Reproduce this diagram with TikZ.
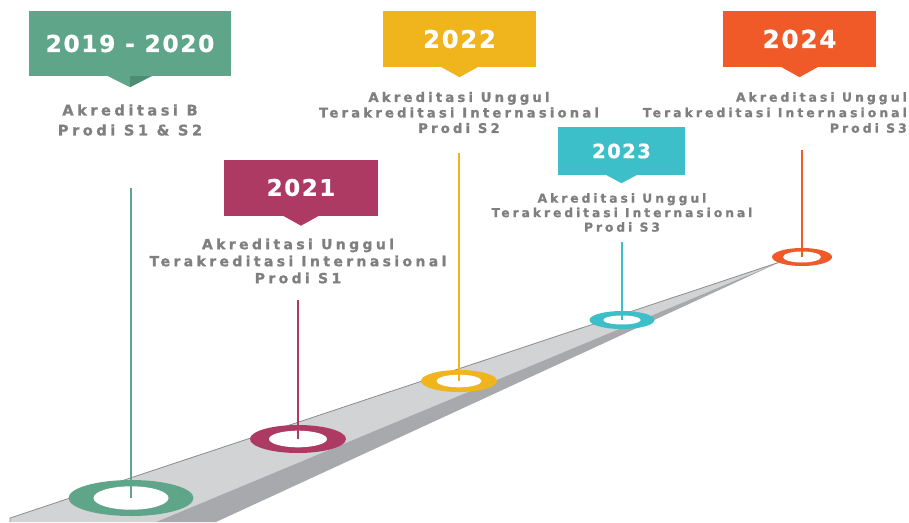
\documentclass[tikz,border=0pt]{standalone}
\usepackage{fontspec}
\setmainfont{DejaVu Sans}
\newfontfamily\yfont[LetterSpace=7, FakeBold=0.8]{DejaVu Sans}
\newfontfamily\gfont[LetterSpace=24, FakeBold=1.2]{DejaVu Sans}
\usetikzlibrary{shapes.geometric}
\definecolor{cgreen}{HTML}{5FA58A}
\definecolor{cgreendk}{HTML}{4E8C73}
\definecolor{cmag}{HTML}{AD3A63}
\definecolor{cyel}{HTML}{F0B41C}
\definecolor{ccyan}{HTML}{3DBFC9}
\definecolor{corange}{HTML}{F05A28}
\definecolor{cgreytext}{HTML}{7F7F7F}
\definecolor{roadlight}{HTML}{D1D3D4}
\definecolor{roaddark}{HTML}{A7A9AC}
\definecolor{roadedge}{HTML}{8C8C8C}
\begin{document}
\begin{tikzpicture}[x=1pt,y=-1pt,
  yearbox/.style={rectangle, inner sep=0pt, text=white},
  ring/.style={ellipse, inner sep=0pt, draw=none},
  hole/.style={ellipse, inner sep=0pt, draw=none, fill=white},
  stem/.style={line width=2pt},
  gtext/.style={text=cgreytext, inner sep=0pt, align=center}]
\useasboundingbox (0,0) rectangle (909,522);
% road
\fill[roadlight] (10,518) -- (780,262) -- (156,522) -- (10,522) -- cycle;
\fill[roaddark] (780,262) -- (156,522) -- (216,522) -- cycle;
\draw[roadedge, line width=0.8pt] (10,522) -- (10,518) -- (780,262);
% rings
\node[ring, fill=cgreen, minimum width=125pt, minimum height=36pt] (r1) at (131,498) {};
\node[hole, minimum width=75pt, minimum height=23.4pt] (h1) at (r1) {};
\node[ring, fill=cmag, minimum width=96pt, minimum height=28pt] (r2) at (298,439) {};
\node[hole, minimum width=58pt, minimum height=16.6pt] (h2) at (r2) {};
\node[ring, fill=cyel, minimum width=76pt, minimum height=22pt] (r3) at (459,381) {};
\node[hole, minimum width=45pt, minimum height=12.6pt] (h3) at (r3) {};
\node[ring, fill=ccyan, minimum width=65pt, minimum height=18pt] (r4) at (622,320) {};
\node[hole, minimum width=37.4pt, minimum height=9pt] (h4) at (r4) {};
\node[ring, fill=corange, minimum width=60pt, minimum height=18pt] (r5) at (802,257) {};
\node[hole, minimum width=38pt, minimum height=11pt] (h5) at (r5) {};
% stems
\coordinate (s1) at (131,188);
\coordinate (s2) at (298,300);
\coordinate (s3) at (459,153);
\coordinate (s4) at (622,242);
\coordinate (s5) at (802,150);
\draw[stem, cgreen] (s1) -- (r1.center);
\draw[stem, cmag] (s2) -- (r2.center);
\draw[stem, cyel] (s3) -- (r3.center);
\draw[stem, ccyan] (s4) -- (r4.center);
\draw[stem, corange] (s5) -- (r5.center);
% year boxes
\node[yearbox, fill=cgreen, minimum width=202pt, minimum height=65pt, font=\yfont\bfseries\fontsize{23.3}{27}\selectfont] (b1) at (130,43.5) {2019 - 2020};
\fill[cgreen] ([xshift=-22pt]b1.south) -- ([yshift=-11pt]b1.south) -- ([xshift=22pt]b1.south) -- cycle;
\fill[cgreendk] (b1.south) -- ([yshift=-11pt]b1.south) -- ([xshift=20pt]b1.south) -- cycle;
\node[yearbox, fill=cmag, minimum width=154pt, minimum height=56pt, font=\yfont\bfseries\fontsize{22.9}{27}\selectfont] (b2) at (301,187.5) {2021};
\fill[cmag] ([xshift=-18pt]b2.south) -- ([yshift=-10pt]b2.south) -- ([xshift=18pt]b2.south) -- cycle;
\node[yearbox, fill=cyel, minimum width=153pt, minimum height=56pt, font=\yfont\bfseries\fontsize{24.3}{28}\selectfont] (b3) at (459.5,39) {2022};
\fill[cyel] ([xshift=-18pt]b3.south) -- ([yshift=-10pt]b3.south) -- ([xshift=18pt]b3.south) -- cycle;
\node[yearbox, fill=ccyan, minimum width=127pt, minimum height=48pt, font=\yfont\bfseries\fontsize{19.6}{24}\selectfont] (b4) at (621.5,151) {2023};
\fill[ccyan] ([xshift=-15pt]b4.south) -- ([yshift=-8pt]b4.south) -- ([xshift=15pt]b4.south) -- cycle;
\node[yearbox, fill=corange, minimum width=153pt, minimum height=56pt, font=\yfont\bfseries\fontsize{24.7}{29}\selectfont] (b5) at (799.5,39) {2024};
\fill[corange] ([xshift=-18pt]b5.south) -- ([yshift=-10pt]b5.south) -- ([xshift=18pt]b5.south) -- cycle;
% descriptions
\node[gtext, font=\gfont\bfseries\fontsize{14.6}{20}\selectfont] (t1) at (130,120) {Akreditasi B\\Prodi S1 \& S2};
\node[gtext, font=\gfont\bfseries\fontsize{14}{17}\selectfont] (t2) at (298,261) {Akreditasi Unggul\\Terakreditasi Internasional\\Prodi S1};
\node[gtext, font=\gfont\bfseries\fontsize{13.2}{15.5}\selectfont] (t3) at (459,112.5) {Akreditasi Unggul\\Terakreditasi Internasional\\Prodi S2};
\node[gtext, font=\gfont\bfseries\fontsize{12.3}{14.5}\selectfont] (t4) at (622,212.5) {Akreditasi Unggul\\Terakreditasi Internasional\\Prodi S3};
\node[gtext, align=right, anchor=east, font=\gfont\bfseries\fontsize{12.45}{15.5}\selectfont] (t5) at (907,112.5) {Akreditasi Unggul\\Terakreditasi Internasional\\Prodi S3};
\end{tikzpicture}
\end{document}
